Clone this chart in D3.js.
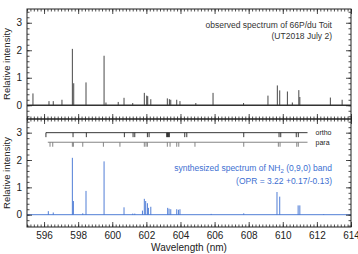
<!DOCTYPE html>
<html>
<head>
<meta charset="utf-8">
<script src="https://cdn.jsdelivr.net/npm/d3@7"></script>
<style>
  body { margin: 0; background: #fff; }
  text { font-family: "Liberation Sans", Arial, sans-serif; }
</style>
</head>
<body>
<script>
// wavelength (nm), relative intensity
var observedLines = [
  [595.35, 0.43], [596.29, 0.15], [596.54, 0.15], [597.05, 0.2], [597.66, 2.05],
  [597.74, 0.8], [598.46, 0.83], [599.52, 1.8], [599.63, 0.1], [600.35, 0.12],
  [600.69, 0.27], [601.2, 0.08], [601.88, 0.45], [602.02, 0.35], [602.08, 0.33],
  [602.26, 0.22], [603.23, 0.25], [603.35, 0.22], [603.43, 0.2], [603.78, 0.2],
  [603.97, 0.15], [604.9, 0.08], [605.91, 0.45], [607.7, 0.08], [609.13, 0.35],
  [609.68, 0.72], [609.82, 0.54], [610.27, 0.5], [610.56, 0.1], [610.94, 0.55],
  [611.0, 0.3], [612.79, 0.28], [613.48, 0.2]
];

var synthLines = [
  [596.25, 0.13], [596.54, 0.08], [597.66, 2.08], [597.72, 0.5], [598.27, 0.05],
  [598.46, 0.87], [599.52, 1.95], [600.69, 0.27], [601.2, 0.04], [601.32, 0.04],
  [601.77, 0.15], [601.88, 0.58], [601.96, 0.5], [602.06, 0.42], [602.12, 0.25],
  [602.26, 0.29], [603.25, 0.25], [603.33, 0.22], [603.43, 0.2], [603.78, 0.2],
  [603.88, 0.18], [603.97, 0.2], [605.8, 0.03], [607.71, 0.05], [609.66, 0.83],
  [609.82, 0.66], [610.9, 0.34], [611.0, 0.34], [612.4, 0.02]
];

var orthoTicks = [596.11, 597.7, 598.48, 600.71, 601.22, 601.32, 602.06, 602.16,
  603.19, 603.24, 603.3, 603.35, 604.25, 604.37, 607.71, 609.78, 609.88, 610.79, 610.91];
var paraTicks = [596.35, 596.51, 597.66, 597.72, 598.27, 599.48, 600.45, 601.88,
  601.98, 602.06, 603.23, 603.39, 603.78, 603.9, 604.85, 607.71, 609.74, 609.84,
  610.82, 610.91];
var orthoRange = [596.11, 611.45];
var paraRange = [596.22, 611.45];

var xMajor = [596, 598, 600, 602, 604, 606, 608, 610, 612, 614];
var xMinor = d3.range(595, 614.01, 0.2).map(function(v) { return +v.toFixed(1); });
var yMajor = [0, 1, 2, 3];
var yMinor = d3.range(-0.4, 3.41, 0.2).map(function(v) { return +v.toFixed(1); });

var W = 358, H = 254;
var svg = d3.select("body").append("svg")
    .attr("width", W)
    .attr("height", H);

var left = 27, right = 351;
var x = d3.scaleLinear().domain([595, 614]).range([left, right]);

var yTop = d3.scaleLinear().domain([-0.5, 3.5]).range([119, 9]);
var yBot = d3.scaleLinear().domain([-0.45, 3.5]).range([227, 119]);

var fontSize = 10;

function frame(y, showX) {
  var g = svg.append("g");
  var y0 = y.range()[0], y1 = y.range()[1];

  // minor ticks
  g.append("g").attr("transform", "translate(0," + y0 + ")")
    .call(d3.axisBottom(x).tickValues(xMinor).tickSize(-2.5).tickFormat(""));
  g.append("g").attr("transform", "translate(0," + y1 + ")")
    .call(d3.axisTop(x).tickValues(xMinor).tickSize(-2.5).tickFormat(""));
  g.append("g").attr("transform", "translate(" + left + ",0)")
    .call(d3.axisLeft(y).tickValues(yMinor).tickSize(-2.5).tickFormat(""));
  g.append("g").attr("transform", "translate(" + right + ",0)")
    .call(d3.axisRight(y).tickValues(yMinor).tickSize(-2.5).tickFormat(""));

  // major ticks
  var xb = g.append("g").attr("transform", "translate(0," + y0 + ")")
    .call(d3.axisBottom(x).tickValues(xMajor).tickSize(-5).tickPadding(5)
      .tickFormat(showX ? d3.format("d") : ""));
  g.append("g").attr("transform", "translate(0," + y1 + ")")
    .call(d3.axisTop(x).tickValues(xMajor).tickSize(-5).tickFormat(""));
  g.append("g").attr("transform", "translate(" + left + ",0)")
    .call(d3.axisLeft(y).tickValues(yMajor).tickSize(-5).tickPadding(5).tickFormat(d3.format("d")));
  g.append("g").attr("transform", "translate(" + right + ",0)")
    .call(d3.axisRight(y).tickValues(yMajor).tickSize(-5).tickFormat(""));

  g.selectAll(".domain").remove();
  g.selectAll(".tick line").attr("stroke", "#222").attr("stroke-width", 0.8);
  g.selectAll(".tick text")
    .attr("fill", "#222")
    .style("font-size", fontSize + "px")
    .style("font-family", '"Liberation Sans", Arial, sans-serif');

  g.append("rect")
    .attr("x", left).attr("y", y1)
    .attr("width", right - left).attr("height", y0 - y1)
    .attr("fill", "none").attr("stroke", "#222").attr("stroke-width", 1);

  // y label
  g.append("text")
    .attr("transform", "translate(10," + ((y0 + y1) / 2) + ") rotate(-90)")
    .style("text-anchor", "middle")
    .style("font-size", "9.5px")
    .attr("fill", "#222")
    .text("Relative intensity");
}

function spectrum(y, lines, color, width) {
  var g = svg.append("g");
  g.append("line")
    .attr("x1", x(595)).attr("x2", x(614))
    .attr("y1", y(0)).attr("y2", y(0))
    .attr("stroke", color).attr("stroke-width", width);
  g.selectAll("line.spike").data(lines).join("line")
    .attr("class", "spike")
    .attr("x1", function(d) { return x(d[0]); })
    .attr("x2", function(d) { return x(d[0]); })
    .attr("y1", y(0))
    .attr("y2", function(d) { return y(d[1]); })
    .attr("stroke", color).attr("stroke-width", 0.9);
}

spectrum(yTop, observedLines, "#333", 1.3);
spectrum(yBot, synthLines, "#3d6fd1", 0.9);

frame(yTop, false);
frame(yBot, true);

// ortho / para markers
function markerRow(ticks, range, yv, color, label) {
  var g = svg.append("g");
  var yy = yBot(yv);
  g.append("line")
    .attr("x1", x(range[0])).attr("x2", x(range[1]))
    .attr("y1", yy).attr("y2", yy)
    .attr("stroke", color).attr("stroke-width", 0.9);
  g.selectAll("line.mk").data(ticks).join("line")
    .attr("class", "mk")
    .attr("x1", function(d) { return x(d); })
    .attr("x2", function(d) { return x(d); })
    .attr("y1", yy).attr("y2", yy + 4.5)
    .attr("stroke", color).attr("stroke-width", 0.9);
  g.append("text")
    .attr("x", x(range[1]) + 8).attr("y", yy + 2.5)
    .style("font-size", "7px")
    .attr("fill", "#222")
    .text(label);
}
markerRow(orthoTicks, orthoRange, 3.0, "#222", "ortho");
markerRow(paraTicks, paraRange, 2.65, "#777", "para");

// annotations
svg.append("text")
  .attr("x", 332).attr("y", 28)
  .style("text-anchor", "end").style("font-size", "8.5px").attr("fill", "#333")
  .text("observed spectrum of 66P/du Toit");
svg.append("text")
  .attr("x", 332).attr("y", 38.5)
  .style("text-anchor", "end").style("font-size", "8.5px").attr("fill", "#333")
  .text("(UT2018 July 2)");

var t1 = svg.append("text")
  .attr("x", 332).attr("y", 171)
  .style("text-anchor", "end").style("font-size", "8.5px").attr("fill", "#3d6fd1");
t1.append("tspan").text("synthesized spectrum of NH");
t1.append("tspan").attr("dy", 2).style("font-size", "6px").text("2");
t1.append("tspan").attr("dy", -2).text(" (0,9,0) band");
svg.append("text")
  .attr("x", 332).attr("y", 184)
  .style("text-anchor", "end").style("font-size", "8.5px").attr("fill", "#3d6fd1")
  .text("(OPR = 3.22 +0.17/-0.13)");

// x label
svg.append("text")
  .attr("x", (left + right) / 2).attr("y", 251)
  .style("text-anchor", "middle").style("font-size", "10px").attr("fill", "#222")
  .text("Wavelength (nm)");
</script>
</body>
</html>
